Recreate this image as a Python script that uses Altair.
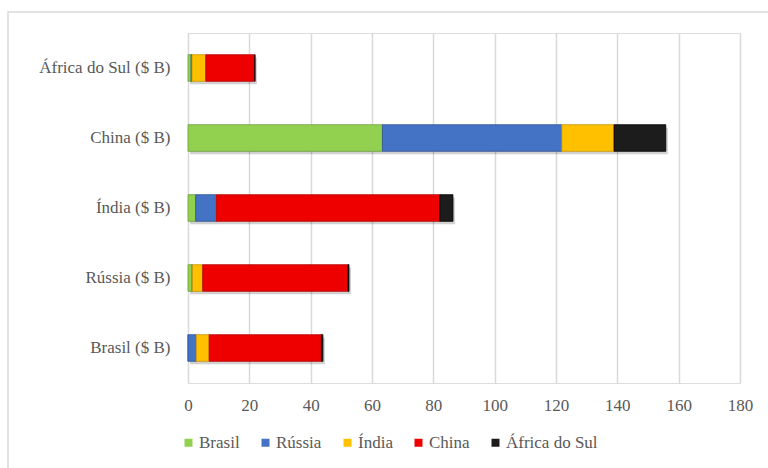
import altair as alt
import pandas as pd

categorias = ["Brasil ($ B)", "Rússia ($ B)", "Índia ($ B)", "China ($ B)", "África do Sul ($ B)"]
ordem_y = ["África do Sul ($ B)", "China ($ B)", "Índia ($ B)", "Rússia ($ B)", "Brasil ($ B)"]
series = ["Brasil", "Rússia", "Índia", "China", "África do Sul"]
cores = ["#92d050", "#4472c4", "#ffc000", "#ee0000", "#1c1c1c"]
bordas = ["#6f9e3c", "#2f5597", "#c99700", "#b00000", "#000000"]

brasil = [0.0, 1.4, 2.5, 63.4, 1.0]
russia = [2.7, 0.0, 6.7, 58.5, 0.3]
india = [4.2, 3.4, 0.0, 17.1, 4.5]
china = [36.6, 47.4, 72.9, 0.0, 16.0]
africa = [0.5, 0.3, 4.3, 16.8, 0.0]

valores = [brasil, russia, india, china, africa]
linhas = []
for si, (s, vals) in enumerate(zip(series, valores)):
    for c, v in zip(categorias, vals):
        linhas.append({"categoria": c, "serie": s, "ordem": si, "valor": v})
df = pd.DataFrame(linhas)

FONT = "Liberation Serif, Times New Roman, serif"
FS = 17

y_enc = alt.Y("categoria:N", sort=ordem_y, title=None,
              scale=alt.Scale(paddingInner=0.62, paddingOuter=0.31),
              axis=alt.Axis(labelFont=FONT, labelFontSize=FS, labelColor="#595959",
                            ticks=False, domain=False, labelPadding=18, grid=False))
x_enc = alt.X("valor:Q", title=None, stack="zero",
              scale=alt.Scale(domain=[0, 180], nice=False),
              axis=alt.Axis(values=list(range(0, 181, 20)), labelFont=FONT, labelFontSize=FS,
                            labelColor="#595959", ticks=False, domain=False, labelPadding=14,
                            labelFlush=False,
                            grid=True, gridColor="#d9d9d9", gridWidth=1.5))

frame = alt.Chart(pd.DataFrame({"k": [0]})).mark_rect(
    fill="transparent", stroke="#d9d9d9", strokeWidth=1.5
).encode(x=alt.value(-180), x2=alt.value(600), y=alt.value(-21), y2=alt.value(460))

shadow = alt.Chart(df).mark_bar(color="#000000", opacity=0.18, xOffset=2, yOffset=3).encode(
    y=y_enc, x=x_enc, order=alt.Order("ordem:Q"),
)

bars = alt.Chart(df).mark_bar(strokeWidth=1, strokeOpacity=0.8).encode(
    y=y_enc,
    x=x_enc,
    color=alt.Color("serie:N", sort=series, title=None,
                    scale=alt.Scale(domain=series, range=cores),
                    legend=alt.Legend(orient="none", direction="horizontal", legendX=-8, legendY=401,
                                      symbolType="square", symbolSize=64, symbolStrokeWidth=0,
                                      labelFont=FONT, labelFontSize=FS, labelColor="#595959",
                                      labelOffset=2, columnPadding=17)),
    stroke=alt.Stroke("serie:N", scale=alt.Scale(domain=series, range=bordas), legend=None),
    order=alt.Order("ordem:Q"),
)

chart = alt.layer(frame, shadow, bars).properties(
    width=552, height=350,
    autosize=alt.AutoSizeParams(type="none"),
    padding={"left": 188, "top": 33, "right": 28, "bottom": 85},
).configure_view(stroke="transparent", strokeWidth=0).configure(background="white")

chart.save("out.html", embed_options={"renderer": "svg", "actions": False})
